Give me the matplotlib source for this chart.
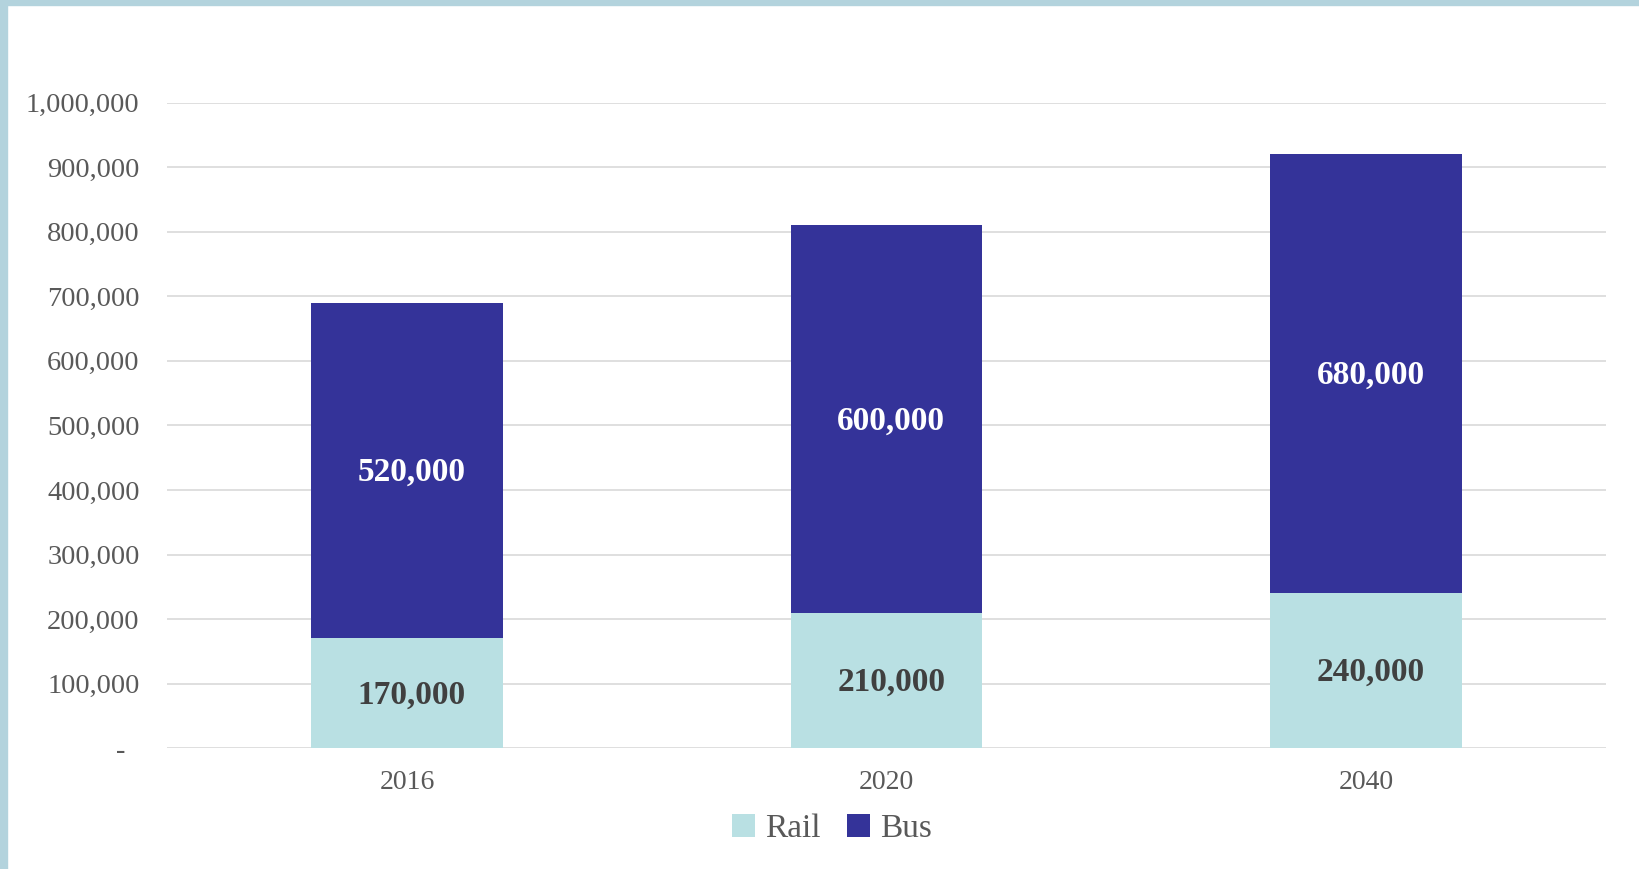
import matplotlib
matplotlib.use("Agg")
import matplotlib.pyplot as plt
from matplotlib.patches import Rectangle
from matplotlib.ticker import FuncFormatter
import numpy as np

years = ["2016", "2020", "2040"]
rail = [170000, 210000, 240000]
bus = [520000, 600000, 680000]
y_ticks = list(range(0, 1000001, 100000))

RAIL_COLOR = "#b9e0e3"
BUS_COLOR = "#343399"
BORDER = "#b3d3dd"

plt.rcParams["font.family"] = ["Liberation Serif", "DejaVu Serif"]

fig = plt.figure(figsize=(16.4, 8.69), dpi=100)
fig.patch.set_facecolor("white")

# light blue frame at top and left, like the source screenshot
fig.patches.append(Rectangle((0, 1 - 5 / 869), 1, 5 / 869, transform=fig.transFigure,
                             color=BORDER, zorder=0))
fig.patches.append(Rectangle((0, 0), 7 / 1640, 1, transform=fig.transFigure,
                             color=BORDER, zorder=0))

ax = fig.add_axes([0.102, 0.139, 0.877, 0.743])
x = np.arange(len(years))
width = 0.4

ax.bar(x, rail, width, color=RAIL_COLOR, label="Rail", zorder=3)
ax.bar(x, bus, width, bottom=rail, color=BUS_COLOR, label="Bus", zorder=3)

for i in range(len(years)):
    ax.text(x[i] + 0.01, rail[i] / 2 - 3000, f"{rail[i]:,}", ha="center", va="center",
            fontsize=24, fontweight="bold", color="#404040", zorder=4)
    ax.text(x[i] + 0.01, rail[i] + bus[i] / 2 - 3000, f"{bus[i]:,}", ha="center", va="center",
            fontsize=24, fontweight="bold", color="white", zorder=4)

ax.set_xlim(-0.5, len(years) - 0.5)
ax.set_ylim(0, 1000000)
ax.set_yticks(y_ticks)
# accounting style: zero shown as a dash, set in from the right edge
ax.yaxis.set_major_formatter(FuncFormatter(lambda v, p: "-  " if v == 0 else f"{int(v):,}"))
ax.set_xticks(x)
ax.set_xticklabels(years)
ax.tick_params(axis="y", length=0, pad=20, labelsize=20.5, labelcolor="#595959")
ax.tick_params(axis="x", length=0, pad=16, labelsize=20, labelcolor="#595959")

ax.grid(axis="y", color="#d9d9d9", linewidth=1.2, zorder=0)
for s in ax.spines.values():
    s.set_visible(False)

leg = fig.legend(loc="center", bbox_to_anchor=(832 / 1640, 1 - 829 / 869), ncol=2,
                 frameon=False, fontsize=24, handlelength=0.7, handleheight=0.7,
                 handletextpad=0.3, columnspacing=0.8)
for t in leg.get_texts():
    t.set_color("#595959")

fig.savefig("out.png", dpi=100)
